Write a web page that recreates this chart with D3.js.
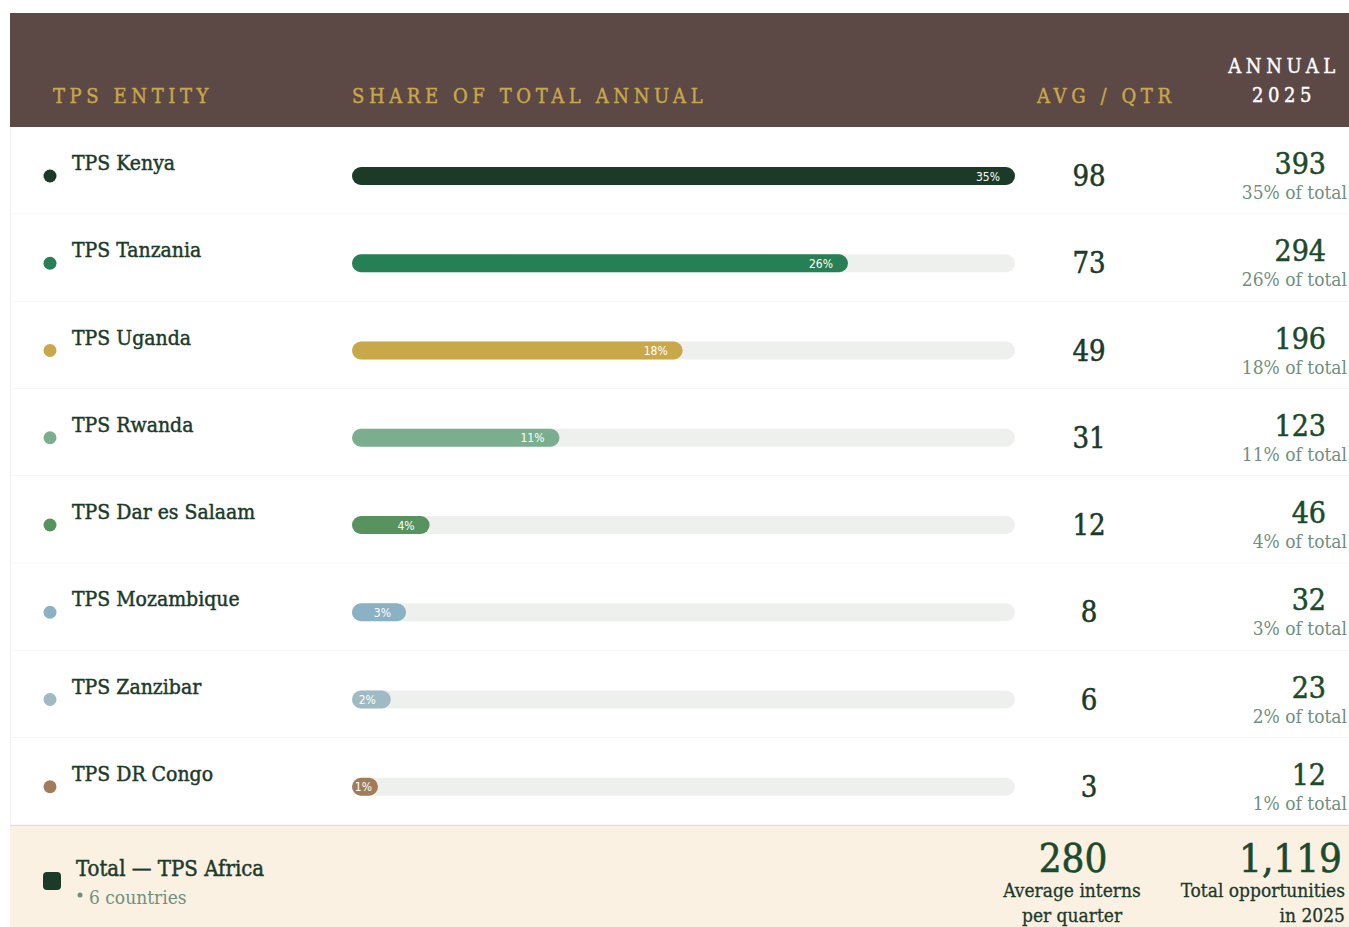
<!DOCTYPE html>
<html lang="en">
<head>
	<meta charset="utf-8">
	<title>TPS Annual Share</title>
	<script src="https://cdn.jsdelivr.net/npm/d3@7"></script>
	<style>
		body { margin: 0; background: #fff; }
		svg text { font-family: "DejaVu Serif Condensed", "DejaVu Serif", serif; font-stretch: condensed; }
		.head { fill: #c9a84a; stroke: #c9a84a; stroke-width: 0.4px; font-size: 20px; letter-spacing: 4.6px; font-stretch: normal; }
		.head.white { fill: #fff; stroke: #fff; }
		.name { fill: #1c3a2a; stroke: #1c3a2a; stroke-width: 0.45px; font-size: 21px; }
		.barlab { fill: #fff; font-family: "DejaVu Sans Condensed", "DejaVu Sans", sans-serif; font-size: 12px; }
		.avg { fill: #1c3a2a; stroke: #1c3a2a; stroke-width: 0.5px; font-size: 29px; }
		.ann { fill: #1b4a2c; stroke: #1b4a2c; stroke-width: 0.5px; font-size: 30px; }
		.sub { fill: #6f8f7f; font-size: 19px; }
		.tot { fill: #1c3a2a; stroke: #1c3a2a; stroke-width: 0.45px; font-size: 22px; }
		.big { fill: #1b4a2c; stroke: #1b4a2c; stroke-width: 0.6px; font-size: 40px; }
		.cap { fill: #1c3a2a; stroke: #1c3a2a; stroke-width: 0.3px; font-size: 19px; }
	</style>
</head>
<body>
	<div id="chart"></div>
	<script>
		// data
		var entities = ["TPS Kenya", "TPS Tanzania", "TPS Uganda", "TPS Rwanda", "TPS Dar es Salaam", "TPS Mozambique", "TPS Zanzibar", "TPS DR Congo"];
		var annual = [393, 294, 196, 123, 46, 32, 23, 12];
		var avgQtr = [98, 73, 49, 31, 12, 8, 6, 3];
		var share = [35, 26, 18, 11, 4, 3, 2, 1];
		var colors = ["#1b3a27", "#277f55", "#c9a84a", "#7aae8e", "#58925f", "#8ab1c4", "#a0bac3", "#a07c5a"];
		var headers = ["TPS ENTITY", "SHARE OF TOTAL ANNUAL", "AVG / QTR"];
		var totalAnnual = 1119, totalAvg = 280, countries = 6;

		var w = 1349, h = 927;
		var svg = d3.select("#chart").append("svg").attr("width", w).attr("height", h);

		var y = d3.scaleBand().domain(entities).range([127, 825]);
		var x = d3.scaleLinear().domain([0, d3.max(annual)]).range([352, 1015]);
		var fmt = d3.format(",");

		// header band
		svg.append("rect").attr("x", 10).attr("y", 13).attr("width", w - 10).attr("height", 114).attr("fill", "#5c4845");
		var hx = [53, 352, 1037];
		svg.selectAll(".head.col").data(headers).enter().append("text")
			.attr("class", "head col")
			.attr("x", function(d, i) { return hx[i]; })
			.attr("y", 103)
			.text(function(d) { return d; });
		svg.append("text").attr("class", "head white").attr("x", 1284).attr("y", 73).attr("text-anchor", "middle").text("ANNUAL");
		svg.append("text").attr("class", "head white").attr("x", 1284).attr("y", 102).attr("text-anchor", "middle").text("2025");

		// rows
		var rows = svg.selectAll(".row").data(entities).enter().append("g")
			.attr("class", "row")
			.attr("transform", function(d) { return "translate(0," + y(d) + ")"; });

		rows.append("rect").attr("x", 10).attr("width", w - 10).attr("height", y.bandwidth()).attr("fill", "#fff");
		rows.append("line").attr("x1", 10).attr("x2", w).attr("y1", y.bandwidth()).attr("y2", y.bandwidth())
			.attr("stroke", "#eeeeee").attr("stroke-width", 1);
		rows.append("line").attr("x1", 10.5).attr("x2", 10.5).attr("y1", 0).attr("y2", y.bandwidth())
			.attr("stroke", "#f0f0f0").attr("stroke-width", 1);

		rows.append("circle").attr("cx", 50).attr("cy", 49).attr("r", 6.5)
			.attr("fill", function(d, i) { return colors[i]; });
		rows.append("text").attr("class", "name").attr("x", 72).attr("y", 43).text(function(d) { return d; });

		// track and bar
		rows.append("rect").attr("x", x(0)).attr("y", 40).attr("height", 18).attr("rx", 9)
			.attr("width", x.range()[1] - x(0)).attr("fill", "#eef0ee");
		rows.append("rect").attr("x", x(0)).attr("y", 40).attr("height", 18).attr("rx", 9)
			.attr("width", function(d, i) { return Math.max(x(annual[i]) - x(0), 26); })
			.attr("fill", function(d, i) { return colors[i]; });
		rows.append("text").attr("class", "barlab")
			.attr("x", function(d, i) { return Math.max(x(annual[i]) - 15, x(0) + 20); })
			.attr("y", 53.5).attr("text-anchor", "end")
			.text(function(d, i) { return share[i] + "%"; });

		rows.append("text").attr("class", "avg").attr("x", 1089).attr("y", 59).attr("text-anchor", "middle")
			.text(function(d, i) { return avgQtr[i]; });
		rows.append("text").attr("class", "ann").attr("x", 1326).attr("y", 47).attr("text-anchor", "end")
			.text(function(d, i) { return fmt(annual[i]); });
		rows.append("text").attr("class", "sub").attr("x", 1347).attr("y", 72).attr("text-anchor", "end")
			.text(function(d, i) { return share[i] + "% of total"; });

		// total row
		var ty = y.range()[1];
		svg.append("rect").attr("x", 10).attr("y", ty).attr("width", w - 10).attr("height", h - ty).attr("fill", "#faf1e3");
		svg.append("line").attr("x1", 10).attr("x2", w).attr("y1", ty + 0.5).attr("y2", ty + 0.5).attr("stroke", "#e6dccb");
		svg.append("rect").attr("x", 43).attr("y", 872).attr("width", 18).attr("height", 18).attr("rx", 4).attr("fill", "#1b3a27");
		svg.append("text").attr("class", "tot").attr("x", 76).attr("y", 876).text("Total — TPS Africa");
		svg.append("circle").attr("cx", 80).attr("cy", 895).attr("r", 2.5).attr("fill", "#6f8f7f");
		svg.append("text").attr("class", "sub").attr("x", 89).attr("y", 904).text(countries + " countries");

		svg.append("text").attr("class", "big").attr("x", 1073).attr("y", 872).attr("text-anchor", "middle").text(fmt(totalAvg));
		svg.append("text").attr("class", "cap").attr("x", 1072).attr("y", 897).attr("text-anchor", "middle").text("Average interns");
		svg.append("text").attr("class", "cap").attr("x", 1072).attr("y", 922).attr("text-anchor", "middle").text("per quarter");
		svg.append("text").attr("class", "big").attr("x", 1342).attr("y", 872).attr("text-anchor", "end").text(fmt(totalAnnual));
		svg.append("text").attr("class", "cap").attr("x", 1345).attr("y", 897).attr("text-anchor", "end").text("Total opportunities");
		svg.append("text").attr("class", "cap").attr("x", 1345).attr("y", 922).attr("text-anchor", "end").text("in 2025");
	</script>
</body>
</html>
